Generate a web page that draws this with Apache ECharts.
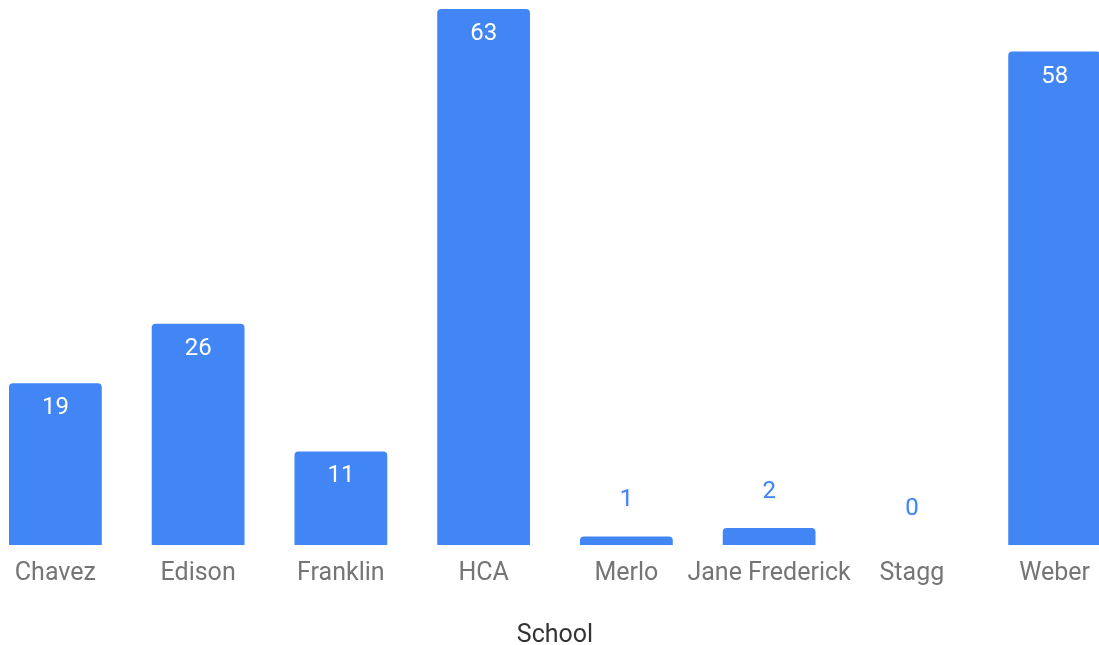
<!DOCTYPE html>
<html>
<head>
<meta charset="utf-8">
<script src="https://cdn.jsdelivr.net/npm/echarts@6/dist/echarts.min.js"></script>
<style>
html,body{margin:0;padding:0;background:#fff;}
#chart{width:1099px;height:645px;}
</style>
</head>
<body>
<div id="chart"></div>
<script>
const categories = ['Chavez', 'Edison', 'Franklin', 'HCA', 'Merlo', 'Jane Frederick', 'Stagg', 'Weber'];
const values = [19, 26, 11, 63, 1, 2, 0, 58];
const axisName = 'School';

const chart = echarts.init(document.getElementById('chart'));
const barColor = '#4285F4';
const data = values.map(v => {
  if (v < 5) {
    return {
      value: v,
      label: {
        position: 'top',
        distance: 24,
        color: barColor,
        textBorderColor: '#f4f8ff',
        textBorderWidth: 3
      }
    };
  }
  return { value: v };
});

chart.setOption({
  animation: false,
  grid: { left: -16, right: -27, top: 9, bottom: 100, containLabel: false, outerBoundsMode: 'none' },
  xAxis: {
    type: 'category',
    data: categories,
    name: axisName,
    nameLocation: 'middle',
    nameGap: 78,
    nameTextStyle: { fontFamily: 'Roboto', fontSize: 25, color: '#333333' },
    axisLine: { show: false },
    axisTick: { show: false },
    axisLabel: { fontFamily: 'Roboto', fontSize: 25, color: '#757575', margin: 16, interval: 0 }
  },
  yAxis: {
    type: 'value',
    min: 0,
    max: 63,
    show: false,
    splitLine: { show: false }
  },
  series: [{
    type: 'bar',
    data: data,
    barWidth: '65%',
    itemStyle: { color: barColor, borderRadius: [4, 4, 0, 0] },
    label: {
      show: true,
      position: 'insideTop',
      distance: 13,
      color: '#ffffff',
      fontFamily: 'Roboto',
      fontSize: 24
    }
  }]
});
</script>
</body>
</html>
